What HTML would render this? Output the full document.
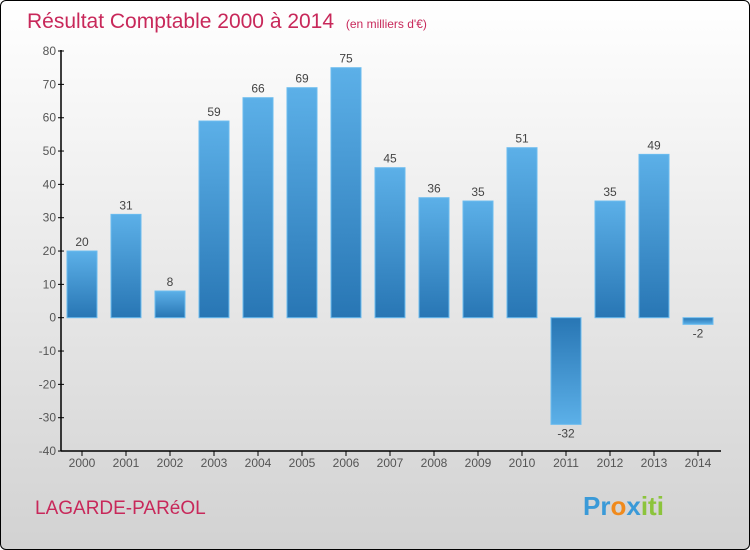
<!DOCTYPE html>
<html><head><meta charset="utf-8"><style>
body{margin:0}
#c{width:748px;height:548px;border:1px solid #000;border-radius:6px;overflow:hidden;background:linear-gradient(#fff,#d2d2d2);position:relative;font-family:"Liberation Sans",sans-serif}
</style></head><body>
<div id="c">
<svg id="s" width="748" height="548" xmlns="http://www.w3.org/2000/svg">
<defs>
<linearGradient id="gp" x1="0" y1="0" x2="0" y2="1"><stop offset="0" stop-color="#5cb0e8"/><stop offset="1" stop-color="#2876b4"/></linearGradient>
<linearGradient id="gn" x1="0" y1="0" x2="0" y2="1"><stop offset="0" stop-color="#2876b4"/><stop offset="1" stop-color="#5cb0e8"/></linearGradient>
</defs>
<text x="26" y="27" font-size="21" fill="#c8285a">Résultat Comptable 2000 à 2014 <tspan font-size="12" dx="6">(en milliers d'€)</tspan></text>
<text x="34" y="513" font-size="19" fill="#c8285a">LAGARDE-PARéOL</text>
<text x="582" y="514" font-size="26" font-weight="bold" fill="#3a9ad8">Pr<tspan fill="#f08a1c">o</tspan><tspan fill="#3a9ad8">x</tspan><tspan fill="#8cc43c">iti</tspan></text>
<g id="g"></g>
</svg>
</div>
<script>
const years=["2000","2001","2002","2003","2004","2005","2006","2007","2008","2009","2010","2011","2012","2013","2014"];
const values=[20,31,8,59,66,69,75,45,36,35,51,-32,35,49,-2];
const yTicks=[80,70,60,50,40,30,20,10,0,-10,-20,-30,-40];
const NS="http://www.w3.org/2000/svg";
const g=document.getElementById('g');
const y=v=>316.7-(v)*400/120;
const x=i=>81+i*44;
function el(t,a,txt){const e=document.createElementNS(NS,t);for(const k in a)e.setAttribute(k,a[k]);if(txt!=null)e.textContent=txt;g.appendChild(e);return e;}
let ax=el('line',{x1:60,y1:49,x2:60,y2:450,stroke:'#000','stroke-width':1.5});


let bx=el('line',{x1:60,y1:450,x2:720,y2:450,stroke:'#000','stroke-width':1.5});


yTicks.forEach(t=>{
 let l=el('line',{x1:57,y1:y(t),x2:63,y2:y(t),stroke:'#000'});
 
 
 let tx=el('text',{x:55,y:y(t)+4,'text-anchor':'end','font-size':12,fill:'#555'},t);
 
 
});
years.forEach((yr,i)=>{
 const v=values[i],cx=x(i);
 let l=el('line',{x1:cx,y1:450,x2:cx,y2:455,stroke:'#000'});
 
 
 let tx=el('text',{x:cx,y:466,'text-anchor':'middle','font-size':12,fill:'#555'},yr);
 
 
 const top=Math.min(y(v),y(0)),h=Math.abs(y(v)-y(0));
 let r=el('rect',{x:cx-15,y:top,width:30,height:h,fill:v>=0?'url(#gp)':'url(#gn)',stroke:'#6bbcef','stroke-width':1});
 
 
 let lb=el('text',{x:cx,y:v>=0?y(v)-5:y(v)+13,'text-anchor':'middle','font-size':12,fill:'#444'},v);
 
 
});
</script>
</body></html>
